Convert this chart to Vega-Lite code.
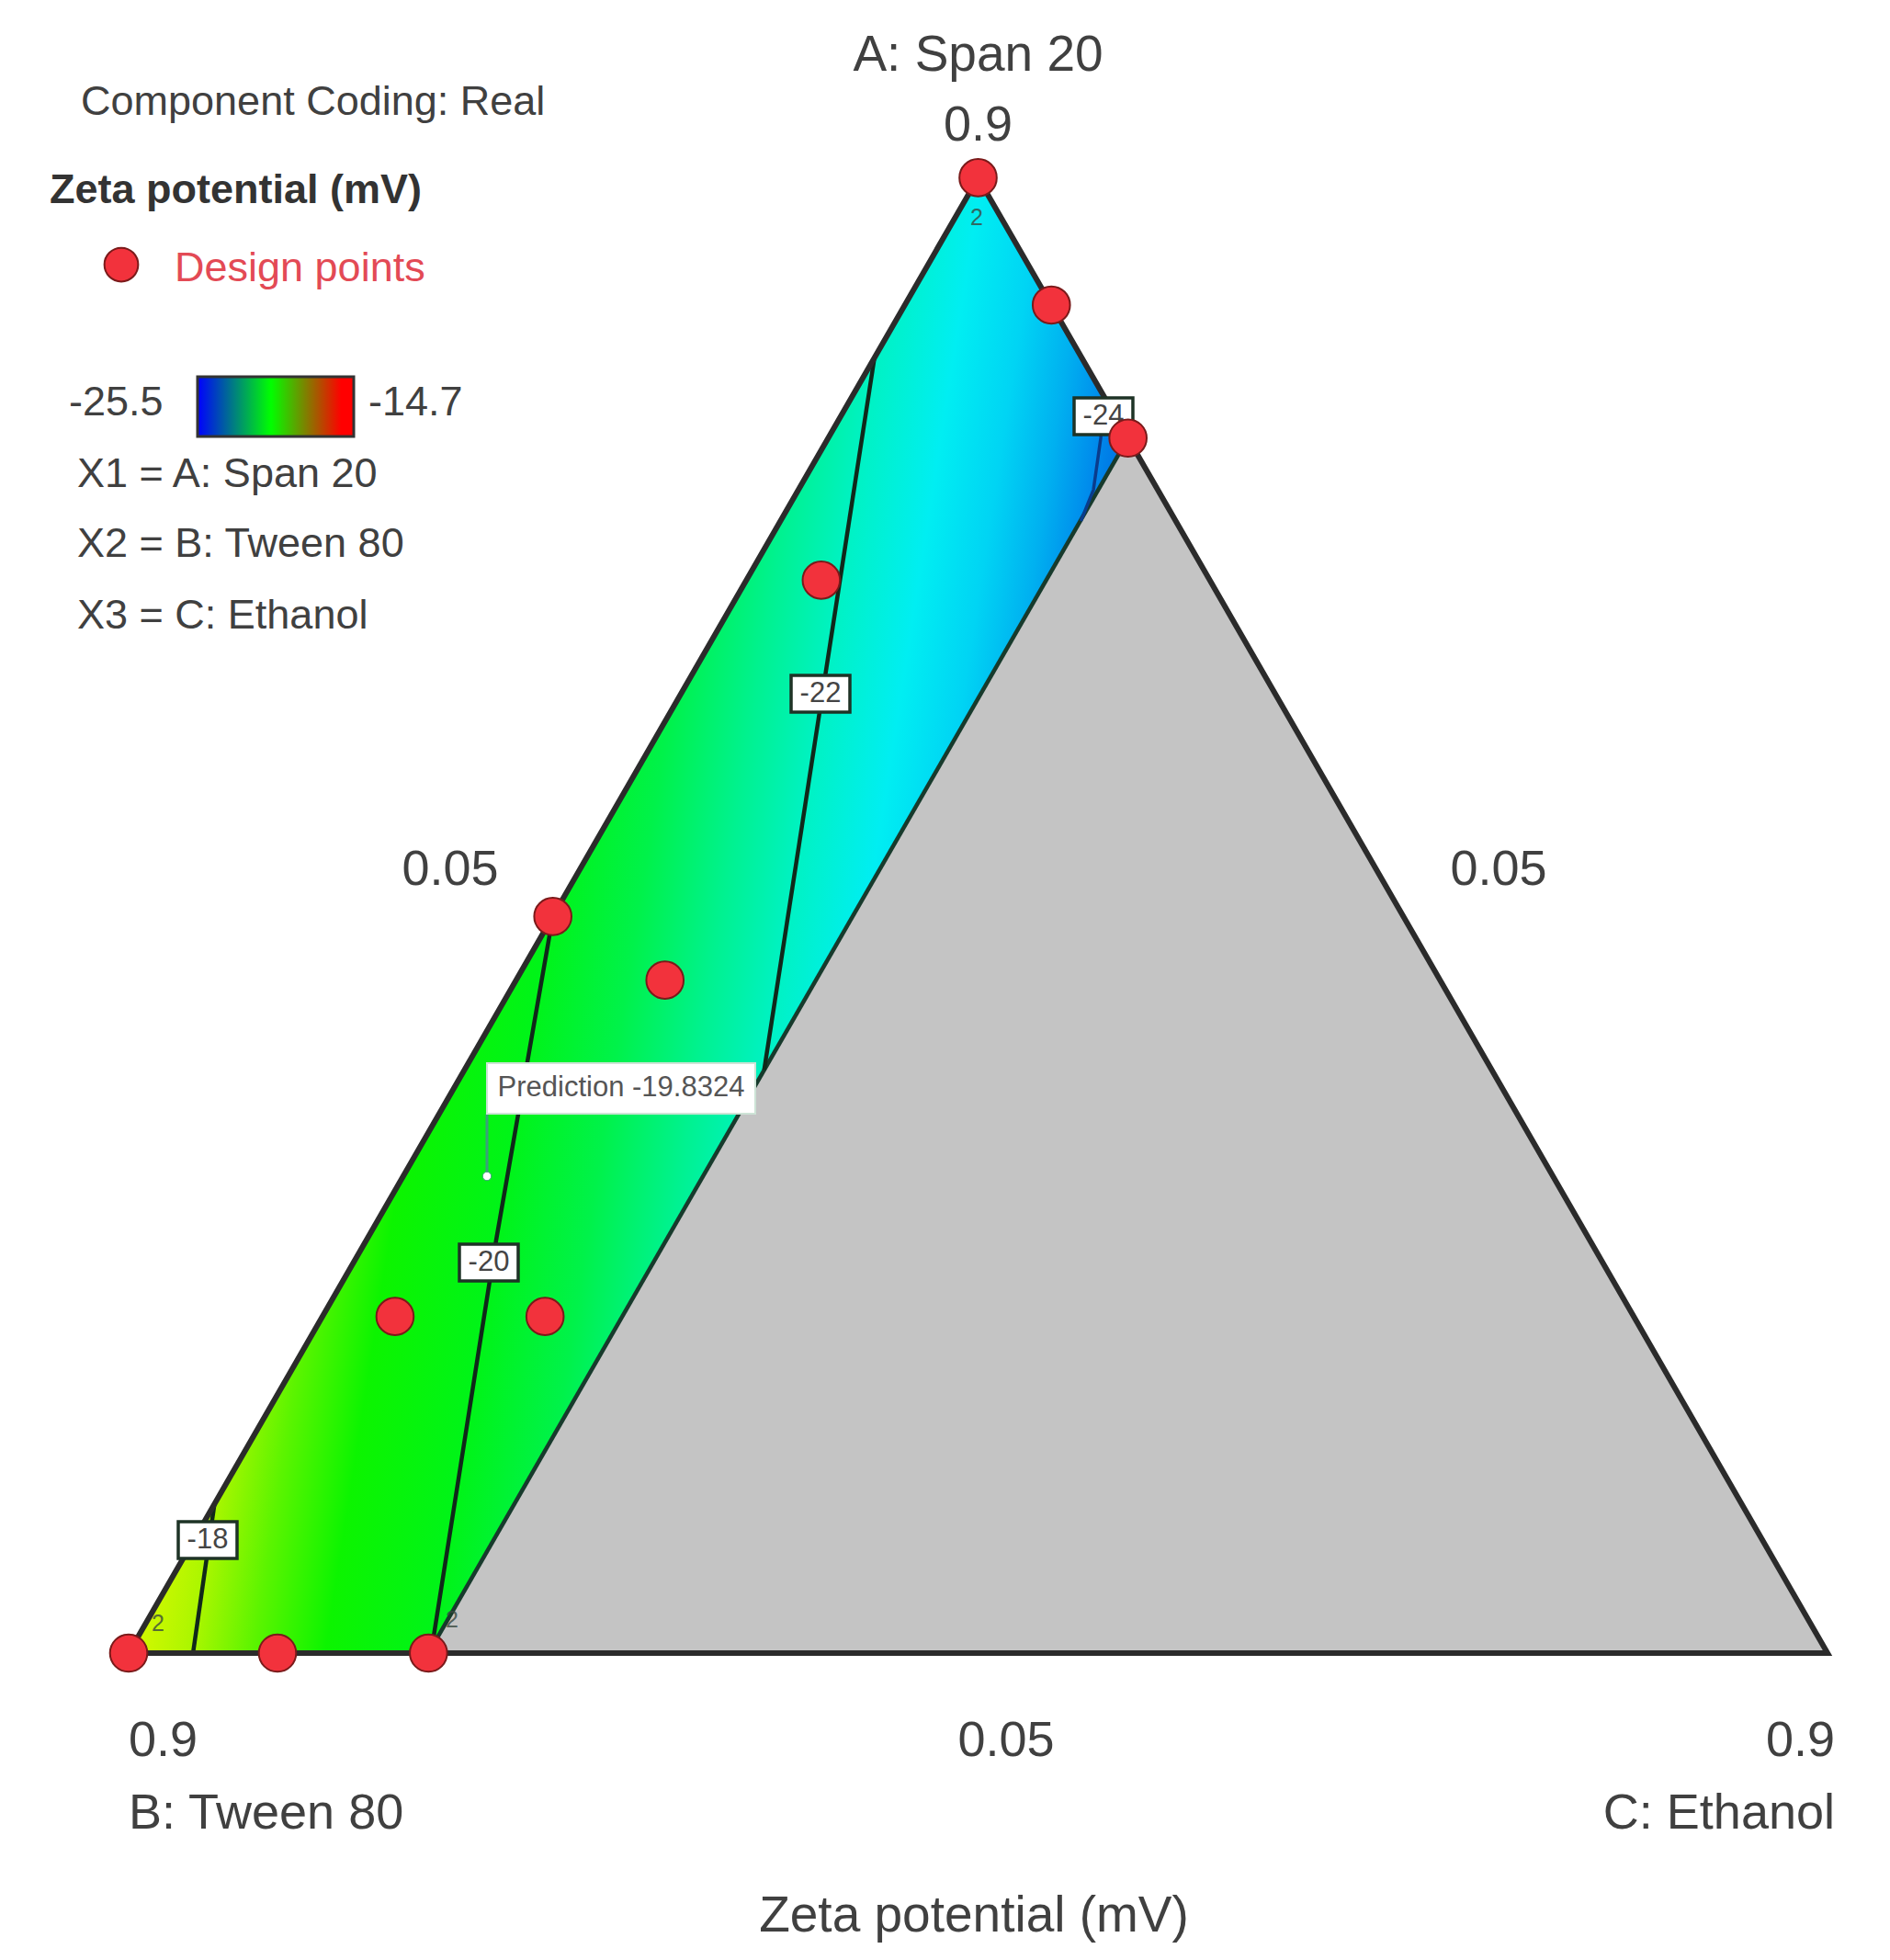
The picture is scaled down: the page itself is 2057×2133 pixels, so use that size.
{
  "$schema": "https://vega.github.io/schema/vega-lite/v6.json",
  "width": 2057,
  "height": 2133,
  "autosize": {"type": "fit", "contains": "padding"},
  "padding": 0,
  "background": "white",
  "config": {"view": {"stroke": null}, "text": {"font": "Liberation Sans"}},
  "encoding": {
    "x": {"field": "x", "type": "quantitative", "scale": {"domain": [-0.07572, 1.03678], "nice": false, "zero": false}, "axis": null},
    "y": {"field": "y", "type": "quantitative", "scale": {"domain": [-0.18015, 0.97034], "nice": false, "zero": false}, "axis": null}
  },
  "layer": [
    {
      "data": {"values": [{"x": 0.1765, "y": 0, "y2": 0}, {"x": 0.58825, "y": 0, "y2": 0.71318}, {"x": 1, "y": 0, "y2": 0}]},
      "mark": {"type": "area", "fill": "#c4c4c4", "stroke": null},
      "encoding": {"y2": {"field": "y2"}}
    },
    {
      "data": {"values": [{"x": 0, "y": 0, "y2": 0}, {"x": 0.1765, "y": 0, "y2": 0.30571}, {"x": 0.5, "y": 0.56032, "y2": 0.86603}, {"x": 0.58825, "y": 0.71318, "y2": 0.71318}]},
      "mark": {"type": "area", "stroke": null, "fill": {"gradient": "linear", "x1": 0, "y1": 0, "x2": 0.9883, "y2": 0.2273, "stops": [
        {"offset": 0.221, "color": "#d8f800"},
        {"offset": 0.282, "color": "#aaf600"},
        {"offset": 0.34, "color": "#5cf400"},
        {"offset": 0.41, "color": "#0cf400"},
        {"offset": 0.513, "color": "#00f418"},
        {"offset": 0.6, "color": "#00f24a"},
        {"offset": 0.68, "color": "#00f290"},
        {"offset": 0.749, "color": "#00f2c6"},
        {"offset": 0.82, "color": "#00eef2"},
        {"offset": 0.88, "color": "#00d4f4"},
        {"offset": 0.93, "color": "#00b0f0"},
        {"offset": 0.969, "color": "#008cec"},
        {"offset": 1, "color": "#0070e2"}
      ]}},
      "encoding": {"y2": {"field": "y2"}}
    },
    {
      "data": {"values": [{"o": 0, "x": 0.1765, "y": 0}, {"o": 1, "x": 0.58825, "y": 0.71318}]},
      "mark": {"type": "line", "stroke": "#173a2c", "strokeWidth": 4.5},
      "encoding": {"order": {"field": "o", "type": "quantitative"}}
    },
    {
      "data": {"values": [
        {"id": "-18", "o": 0, "x": 0.0379, "y": 0}, {"id": "-18", "o": 1, "x": 0.0505, "y": 0.0874},
        {"id": "-20", "o": 0, "x": 0.178, "y": 0}, {"id": "-20", "o": 1, "x": 0.2163, "y": 0.2422}, {"id": "-20", "o": 2, "x": 0.2497, "y": 0.4324},
        {"id": "-22", "o": 0, "x": 0.3741, "y": 0.3423}, {"id": "-22", "o": 1, "x": 0.439, "y": 0.7604}
      ]},
      "mark": {"type": "line", "stroke": "#10281a", "strokeWidth": 4.5},
      "encoding": {"order": {"field": "o", "type": "quantitative"}, "detail": {"field": "id"}}
    },
    {
      "data": {"values": [{"o": 0, "x": 0.5737, "y": 0.7384}, {"o": 1, "x": 0.5722, "y": 0.7131}, {"o": 2, "x": 0.5679, "y": 0.6828}, {"o": 3, "x": 0.5605, "y": 0.6645}]},
      "mark": {"type": "line", "stroke": "#0a3c8c", "strokeWidth": 3.5},
      "encoding": {"order": {"field": "o", "type": "quantitative"}}
    },
    {
      "data": {"values": [{"o": 0, "x": 0, "y": 0}, {"o": 1, "x": 0.5, "y": 0.86603}, {"o": 2, "x": 1, "y": 0}, {"o": 3, "x": 0, "y": 0}]},
      "mark": {"type": "line", "stroke": "#2b2b2b", "strokeWidth": 6, "strokeJoin": "miter"},
      "encoding": {"order": {"field": "o", "type": "quantitative"}}
    },
    {
      "data": {"values": [
        {"x": 0.55652, "x2": 0.59112, "y": 0.7152, "y2": 0.7368},
        {"x": 0.38995, "x2": 0.42455, "y": 0.55231, "y2": 0.57391},
        {"x": 0.1947, "x2": 0.2293, "y": 0.21843, "y2": 0.24003},
        {"x": 0.02921, "x2": 0.06381, "y": 0.05554, "y2": 0.07714}
      ]},
      "mark": {"type": "rect", "fill": "white", "stroke": "#1e3326", "strokeWidth": 3.5},
      "encoding": {"x2": {"field": "x2"}, "y2": {"field": "y2"}}
    },
    {
      "data": {"values": [
        {"x": 0.57382, "y": 0.726, "t": "-24"},
        {"x": 0.40725, "y": 0.56311, "t": "-22"},
        {"x": 0.212, "y": 0.22923, "t": "-20"},
        {"x": 0.04651, "y": 0.06634, "t": "-18"}
      ]},
      "mark": {"type": "text", "align": "center", "baseline": "middle", "fontSize": 31, "color": "#444444"},
      "encoding": {"text": {"field": "t"}}
    },
    {
      "data": {"values": [{"x": 0.21092, "y": 0.27994, "y2": 0.31661}]},
      "mark": {"type": "rule", "stroke": "#3aa07a", "strokeWidth": 3},
      "encoding": {"y2": {"field": "y2"}}
    },
    {
      "data": {"values": [{"x": 0.21092, "x2": 0.36885, "y": 0.31661, "y2": 0.34628}]},
      "mark": {"type": "rect", "fill": "white", "stroke": "#cde3d6", "strokeWidth": 2},
      "encoding": {"x2": {"field": "x2"}, "y2": {"field": "y2"}}
    },
    {
      "data": {"values": [{"x": 0.28989, "y": 0.33145, "t": "Prediction -19.8324"}]},
      "mark": {"type": "text", "align": "center", "baseline": "middle", "fontSize": 31, "color": "#555555"},
      "encoding": {"text": {"field": "t"}}
    },
    {
      "data": {"values": [{"x": 0.21092, "y": 0.27994}]},
      "mark": {"type": "point", "shape": "circle", "filled": true, "fill": "white", "stroke": "#3aa07a", "strokeWidth": 1, "size": 90, "opacity": 1}
    },
    {
      "data": {"values": [
        {"x": 0.5, "y": 0.86603}, {"x": 0.54314, "y": 0.7913}, {"x": 0.58825, "y": 0.71318},
        {"x": 0.4077, "y": 0.6298}, {"x": 0.2497, "y": 0.4324}, {"x": 0.3157, "y": 0.395},
        {"x": 0.1568, "y": 0.1976}, {"x": 0.2451, "y": 0.1976},
        {"x": 0, "y": 0}, {"x": 0.0876, "y": 0}, {"x": 0.1765, "y": 0}
      ]},
      "mark": {"type": "point", "shape": "circle", "filled": true, "fill": "#f2323c", "stroke": "#7a1a1a", "strokeWidth": 2, "size": 1650, "opacity": 1}
    },
    {
      "data": {"values": [{"x": 0.49919, "y": 0.8425, "t": "2"}, {"x": 0.01731, "y": 0.01726, "t": "2"}, {"x": 0.19037, "y": 0.01942, "t": "2"}]},
      "mark": {"type": "text", "align": "center", "baseline": "middle", "fontSize": 25, "color": "#3a4a40", "opacity": 0.8},
      "encoding": {"text": {"field": "t"}}
    },
    {
      "data": {"values": [{"x": -0.00433, "y": 0.81499}]},
      "mark": {"type": "point", "shape": "circle", "filled": true, "fill": "#f2323c", "stroke": "#7a1a1a", "strokeWidth": 2, "size": 1350, "opacity": 1}
    },
    {
      "data": {"values": [{"x": 0.04056, "x2": 0.1325, "y": 0.71414, "y2": 0.74919}]},
      "mark": {"type": "rect", "stroke": "#333333", "strokeWidth": 3, "fill": {"gradient": "linear", "x1": 0, "y1": 0, "x2": 1, "y2": 0, "stops": [
        {"offset": 0, "color": "#0000ff"},
        {"offset": 0.47, "color": "#00ff00"},
        {"offset": 0.92, "color": "#ff0000"},
        {"offset": 1, "color": "#ff0000"}
      ]}},
      "encoding": {"x2": {"field": "x2"}, "y2": {"field": "y2"}}
    },
    {
      "data": {"values": [
        {"x": -0.02812, "y": 0.90291, "t": "Component Coding: Real"},
        {"x": -0.03515, "y": 0.72654, "t": "-25.5"},
        {"x": 0.14116, "y": 0.72654, "t": "-14.7"},
        {"x": -0.03029, "y": 0.68447, "t": "X1 = A: Span 20"},
        {"x": -0.03029, "y": 0.64347, "t": "X2 = B: Tween 80"},
        {"x": -0.03029, "y": 0.6014, "t": "X3 = C: Ethanol"}
      ]},
      "mark": {"type": "text", "align": "left", "baseline": "alphabetic", "fontSize": 45, "color": "#404040"},
      "encoding": {"text": {"field": "t"}}
    },
    {
      "data": {"values": [{"x": -0.04651, "y": 0.8509, "t": "Zeta potential (mV)"}]},
      "mark": {"type": "text", "align": "left", "baseline": "alphabetic", "fontSize": 45, "fontWeight": "bold", "color": "#333333"},
      "encoding": {"text": {"field": "t"}}
    },
    {
      "data": {"values": [{"x": 0.02704, "y": 0.80529, "t": "Design points"}]},
      "mark": {"type": "text", "align": "left", "baseline": "alphabetic", "fontSize": 45, "color": "#e34a55"},
      "encoding": {"text": {"field": "t"}}
    },
    {
      "data": {"values": [{"x": 0.5, "y": 0.9288, "t": "A: Span 20"}, {"x": 0.49757, "y": -0.16343, "t": "Zeta potential (mV)"}]},
      "mark": {"type": "text", "align": "center", "baseline": "alphabetic", "fontSize": 55, "color": "#404040"},
      "encoding": {"text": {"field": "t"}}
    },
    {
      "data": {"values": [
        {"x": 0.5, "y": 0.88781, "t": "0.9"},
        {"x": 0.18929, "y": 0.45092, "t": "0.05"},
        {"x": 0.80638, "y": 0.45092, "t": "0.05"},
        {"x": 0.5165, "y": -0.06041, "t": "0.05"}
      ]},
      "mark": {"type": "text", "align": "center", "baseline": "alphabetic", "fontSize": 54, "color": "#404040"},
      "encoding": {"text": {"field": "t"}}
    },
    {
      "data": {"values": [{"x": 0, "y": -0.06041, "t": "0.9"}, {"x": 0, "y": -0.10302, "t": "B: Tween 80"}]},
      "mark": {"type": "text", "align": "left", "baseline": "alphabetic", "fontSize": 54, "color": "#404040"},
      "encoding": {"text": {"field": "t"}}
    },
    {
      "data": {"values": [{"x": 1.00432, "y": -0.06041, "t": "0.9"}, {"x": 1.00432, "y": -0.10302, "t": "C: Ethanol"}]},
      "mark": {"type": "text", "align": "right", "baseline": "alphabetic", "fontSize": 54, "color": "#404040"},
      "encoding": {"text": {"field": "t"}}
    }
  ]
}
